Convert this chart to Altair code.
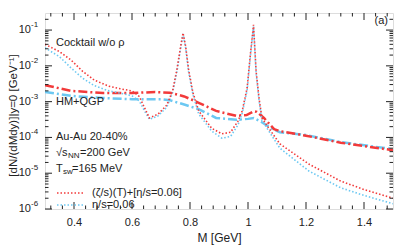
import altair as alt
import pandas as pd

# ---------------- data ----------------
# Cocktail w/o rho, (zeta/s)(T)+[eta/s=0.06]  (red dotted)
m_cz = [0.30, 0.35, 0.39, 0.43, 0.47, 0.52, 0.57, 0.60, 0.625, 0.645, 0.66, 0.69, 0.72,
        0.74, 0.755, 0.767, 0.776, 0.785, 0.795, 0.81, 0.83, 0.875, 0.91, 0.94, 0.965,
        0.98, 0.997, 1.008, 1.019, 1.028, 1.038, 1.048, 1.072, 1.11, 1.21, 1.32, 1.40, 1.50]
y_cz = [4.0e-2, 2.5e-2, 1.45e-2, 7.0e-3, 4.0e-3, 2.7e-3, 2.2e-3, 2.0e-3, 1.4e-3, 6.3e-4,
        3.5e-4, 4.5e-4, 8.0e-4, 2.0e-3, 8.0e-3, 3.2e-2, 8.3e-2, 3.5e-2, 8.0e-3, 1.8e-3,
        5.5e-4, 1.8e-4, 1.26e-4, 1.4e-4, 2.8e-4, 5.5e-4, 2.4e-3, 2.0e-2, 1.4e-1, 7.0e-3,
        1.26e-3, 3.5e-4, 1.8e-4, 6.6e-5, 1.8e-5, 6.0e-6, 3.5e-6, 2.0e-6]

# Cocktail w/o rho, eta/s=0.06  (blue dotted)
m_ce = m_cz
y_ce = [3.2e-2, 1.8e-2, 8.7e-3, 4.5e-3, 2.8e-3, 2.0e-3, 1.66e-3, 1.45e-3, 1.05e-3, 5.2e-4,
        3.2e-4, 4.0e-4, 7.0e-4, 1.8e-3, 7.0e-3, 2.8e-2, 7.8e-2, 3.2e-2, 7.0e-3, 1.6e-3,
        4.5e-4, 1.5e-4, 9.5e-5, 1.07e-4, 2.2e-4, 4.7e-4, 2.1e-3, 1.8e-2, 1.26e-1, 6.3e-3,
        1.1e-3, 3.0e-4, 1.5e-4, 5.0e-5, 1.15e-5, 3.9e-6, 2.4e-6, 1.4e-6]

# HM+QGP, (zeta/s)(T)+[eta/s=0.06]  (red dash-dot)
m_hz = [0.30, 0.39, 0.50, 0.60, 0.68, 0.73, 0.78, 0.83, 0.89, 0.96, 0.995, 1.02, 1.03,
        1.055, 1.09, 1.11, 1.20, 1.32, 1.50]
y_hz = [2.9e-3, 2.0e-3, 1.74e-3, 1.74e-3, 1.86e-3, 1.78e-3, 1.4e-3, 9.3e-4, 5.5e-4, 4.0e-4,
        4.2e-4, 5.4e-4, 5.2e-4, 3.5e-4, 1.7e-4, 1.5e-4, 1.12e-4, 7.1e-5, 4.4e-5]

# HM+QGP, eta/s=0.06  (blue dash-dot)
m_he = [0.30, 0.39, 0.50, 0.60, 0.70, 0.73, 0.78, 0.83, 0.89, 0.96, 1.00, 1.02, 1.045,
        1.08, 1.11, 1.20, 1.32, 1.50]
y_he = [1.86e-3, 1.45e-3, 1.26e-3, 1.17e-3, 1.17e-3, 1.1e-3, 8.3e-4, 6.2e-4, 3.5e-4, 3.1e-4,
        3.3e-4, 3.5e-4, 2.75e-4, 1.8e-4, 1.4e-4, 1.17e-4, 7.4e-5, 4.7e-5]

x_major = [0.4, 0.6, 0.8, 1.0, 1.2, 1.4]
x_minor = [0.32, 0.36, 0.44, 0.48, 0.52, 0.56, 0.64, 0.68, 0.72, 0.76, 0.84, 0.88, 0.92,
           0.96, 1.04, 1.08, 1.12, 1.16, 1.24, 1.28, 1.32, 1.36, 1.44, 1.48]
y_major = [1e-6, 1e-5, 1e-4, 1e-3, 1e-2, 1e-1]
y_exp = ["-6", "-5", "-4", "-3", "-2", "-1"]
y_minor = [m * d for d in [1e-6, 1e-5, 1e-4, 1e-3, 1e-2, 1e-1] for m in range(2, 10)
           if m * d <= 0.3]

RED = "#f23a3a"
BLUE = "#6cc8f2"
FONT = "Liberation Sans"
W, H = 348, 196

xs = alt.Scale(domain=[0.3, 1.5], nice=False, zero=False)
ys = alt.Scale(type="log", domain=[1e-6, 0.3], nice=False)


def curve(m, y, color, dash, width):
    df = pd.DataFrame({"M": m, "y": y})
    return alt.Chart(df).mark_line(color=color, strokeDash=dash, strokeWidth=width,
                                   clip=True).encode(
        x=alt.X("M:Q", scale=xs,
                axis=alt.Axis(values=x_major, format=".1~f", title="M [GeV]",
                              tickSize=0, domain=False, grid=False, labelPadding=7,
                              labelFont=FONT, labelFontSize=11, labelColor="#222",
                              titleFont=FONT, titleFontSize=12, titleFontWeight="normal",
                              titleColor="#222", titleY=28, titleBaseline="middle")),
        y=alt.Y("y:Q", scale=ys,
                axis=alt.Axis(labels=False, ticks=False, domain=False, grid=False,
                              title="[dN/(dMdy)]|y=0 [GeV⁻¹]", titleFont=FONT,
                              titleFontSize=11.5, titleFontWeight="normal",
                              titleColor="#222", titleX=-32, titleY=102,
                              titleAlign="center", titleBaseline="middle")),
    )


dot = [1.5, 2]
dashdot = [9, 3, 2, 3]
layers = [
    curve(m_he, y_he, BLUE, dashdot, 2.5),
    curve(m_hz, y_hz, RED, dashdot, 2.5),
    curve(m_ce, y_ce, BLUE, dot, 1.6),
    curve(m_cz, y_cz, RED, dot, 1.6),
]

# inward ticks
ymaj = pd.DataFrame({"y": y_major})
ymin = pd.DataFrame({"y": y_minor})
xmaj = pd.DataFrame({"M": x_major})
xmin = pd.DataFrame({"M": x_minor})
for df, ln in [(ymaj, 7), (ymin, 3.5)]:
    layers.append(alt.Chart(df).mark_rule(color="#222", strokeWidth=1).encode(
        y=alt.Y("y:Q", scale=ys), x=alt.value(0), x2=alt.value(ln)))
    layers.append(alt.Chart(df).mark_rule(color="#222", strokeWidth=1).encode(
        y=alt.Y("y:Q", scale=ys), x=alt.value(W), x2=alt.value(W - ln)))
for df, ln in [(xmaj, 7), (xmin, 3.5)]:
    layers.append(alt.Chart(df).mark_rule(color="#222", strokeWidth=1).encode(
        x=alt.X("M:Q", scale=xs), y=alt.value(H), y2=alt.value(H - ln)))
    layers.append(alt.Chart(df).mark_rule(color="#222", strokeWidth=1).encode(
        x=alt.X("M:Q", scale=xs), y=alt.value(0), y2=alt.value(ln)))

# y tick labels 10^n
ylab = pd.DataFrame({"y": y_major, "e": y_exp, "b": ["10"] * len(y_major)})
layers.append(alt.Chart(ylab).mark_text(font=FONT, fontSize=11, color="#222",
                                        align="right", baseline="middle").encode(
    y=alt.Y("y:Q", scale=ys), x=alt.value(-14), text="b:N"))
layers.append(alt.Chart(ylab).mark_text(font=FONT, fontSize=8, color="#222",
                                        align="left", baseline="middle", dy=-5).encode(
    y=alt.Y("y:Q", scale=ys), x=alt.value(-14), text="e:N"))


def label(txt, x, y, size=11, align="left"):
    return alt.Chart(pd.DataFrame({"t": [txt]})).mark_text(
        font=FONT, fontSize=size, color="#222", align=align, baseline="middle").encode(
        x=alt.value(x), y=alt.value(y), text="t:N")


layers += [
    label("Cocktail w/o ρ", 11, 30),
    label("HM+QGP", 11, 89),
    label("Au-Au 20-40%", 11, 124),
    label("√s", 11, 140),
    label("NN", 23, 143, size=8),
    label("=200 GeV", 35, 140),
    label("T", 11, 156),
    label("sw", 18, 159, size=8),
    label("=165 MeV", 27, 156),
    label("(ζ/s)(T)+[η/s=0.06]", 47, 180),
    label("η/s=0.06", 47, 192),
    label("(a)", 343, 8, align="right"),
]
# legend samples
layers.append(alt.Chart(pd.DataFrame({"k": [0]})).mark_rule(
    color=RED, strokeDash=dot, strokeWidth=1.6).encode(
    x=alt.value(12), x2=alt.value(39), y=alt.value(180)))
layers.append(alt.Chart(pd.DataFrame({"k": [0]})).mark_rule(
    color=BLUE, strokeDash=dot, strokeWidth=1.6).encode(
    x=alt.value(12), x2=alt.value(39), y=alt.value(192)))

chart = alt.layer(*layers).properties(
    width=W, height=H,
    autosize=alt.AutoSizeParams(type="none"),
    padding={"left": 37, "top": 5, "right": 10, "bottom": 36},
).configure_view(stroke="#222", strokeWidth=1.2).configure(background="white")

chart.save("out.html", embed_options={"renderer": "svg", "actions": False})
